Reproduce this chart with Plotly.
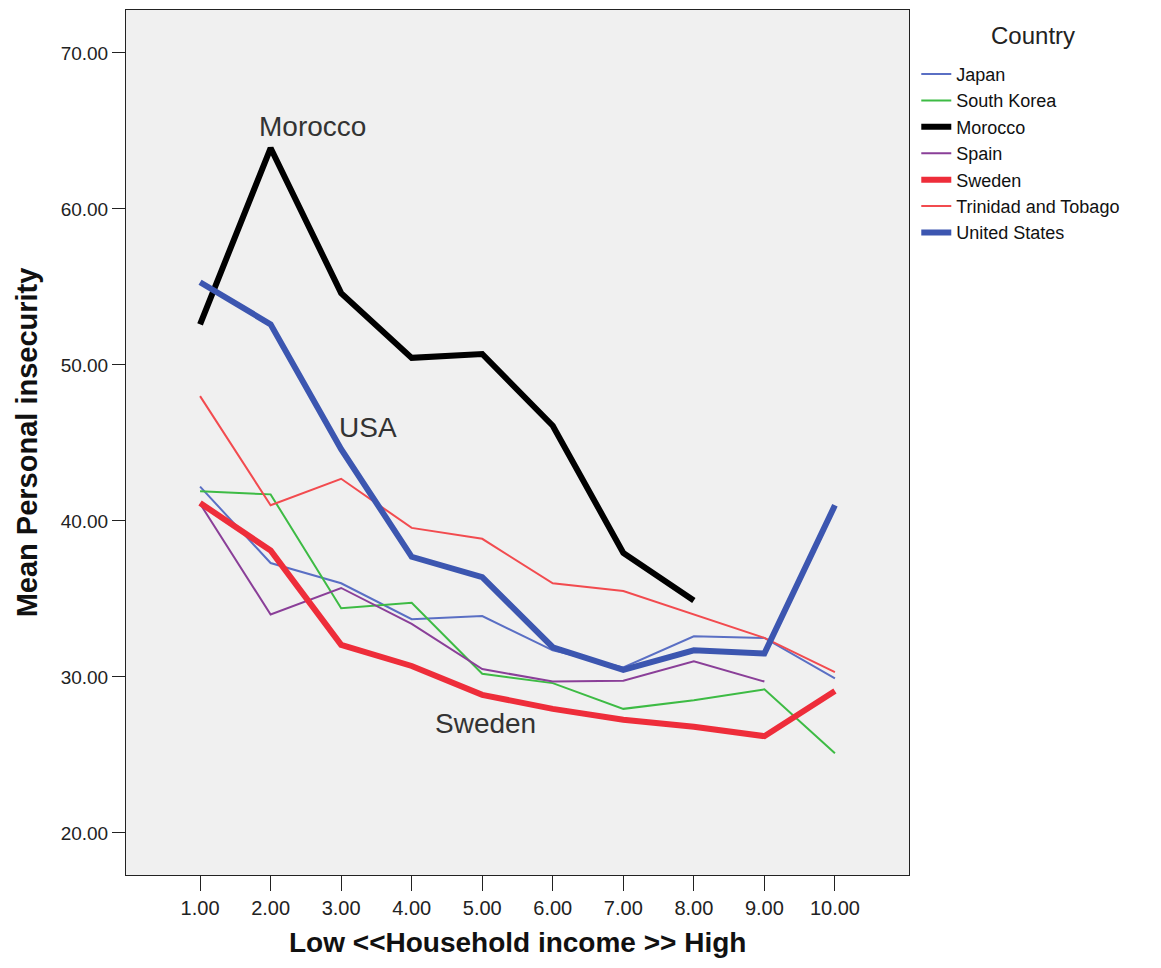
import plotly.graph_objects as go

income = [1, 2, 3, 4, 5, 6, 7, 8, 9, 10]
tick_labels = ["1.00", "2.00", "3.00", "4.00", "5.00", "6.00", "7.00", "8.00", "9.00", "10.00"]
y_ticks = [20, 30, 40, 50, 60, 70]
y_tick_labels = ["20.00", "30.00", "40.00", "50.00", "60.00", "70.00"]

japan = [42.2, 37.3, 36.0, 33.7, 33.9, 31.7, 30.6, 32.6, 32.5, 29.9]
south_korea = [41.9, 41.7, 34.4, 34.75, 30.2, 29.6, 27.95, 28.5, 29.2, 25.1]
morocco = [52.6, 63.9, 54.6, 50.45, 50.7, 46.1, 37.95, 34.9]
spain = [41.1, 34.0, 35.7, 33.4, 30.5, 29.7, 29.75, 31.0, 29.7]
sweden = [41.15, 38.1, 32.05, 30.7, 28.85, 27.95, 27.25, 26.8, 26.2, 29.1]
trinidad = [48.0, 41.0, 42.7, 39.55, 38.85, 36.0, 35.5, 34.0, 32.5, 30.3]
usa = [55.3, 52.6, 44.6, 37.7, 36.4, 31.9, 30.45, 31.7, 31.5, 41.0]

series = [
    ("Japan", japan, "#5a6fc4", 2),
    ("South Korea", south_korea, "#3dbb44", 2),
    ("Morocco", morocco, "#000000", 6),
    ("Spain", spain, "#8a3f98", 2),
    ("Sweden", sweden, "#ee2d3a", 6),
    ("Trinidad and Tobago", trinidad, "#f24b4f", 2),
    ("United States", usa, "#3c56b0", 6),
]

labels = [("Morocco", 2.59, 65.3), ("USA", 3.38, 46.0), ("Sweden", 5.05, 27.0)]

FONT = "Liberation Sans, Arial, sans-serif"

fig = go.Figure()
for name, vals, color, width in series:
    fig.add_trace(go.Scatter(
        x=income[:len(vals)], y=vals, mode="lines", name=name,
        line=dict(color=color, width=width),
    ))

for text, x, y in labels:
    fig.add_annotation(x=x, y=y, text=text, showarrow=False,
                       font=dict(family=FONT, size=28, color="#333333"))

fig.add_annotation(x=1.1584, y=0.97, xref="paper", yref="paper", text="Country",
                   showarrow=False, xanchor="center", yanchor="middle",
                   font=dict(family=FONT, size=24, color="#222"))

# x-axis title placed as paper annotation below the tick labels
fig.add_annotation(x=0.5, y=-0.0786, xref="paper", yref="paper",
                   text="<b>Low <<Household income >> High</b>",
                   showarrow=False, xanchor="center", yanchor="middle",
                   font=dict(family=FONT, size=28, color="#111"))

fig.update_layout(
    width=1145, height=952,
    margin=dict(l=118, r=244, t=2, b=85),
    paper_bgcolor="white",
    plot_bgcolor="#f0f0f0",
    showlegend=True,
    legend=dict(
        x=1.0093, y=0.947, xanchor="left", yanchor="top",
        font=dict(family=FONT, size=18, color="#111"),
        bgcolor="rgba(0,0,0,0)",
        tracegroupgap=0,
    ),
    xaxis=dict(
        range=[-0.05, 11.05], tickvals=income, ticktext=tick_labels,
        showgrid=False, zeroline=False, automargin=False,
        showline=True, mirror=True, linecolor="#222", linewidth=1,
        ticks="outside", ticklen=15, tickcolor="#222",
        tickfont=dict(family=FONT, size=20, color="#222"),
    ),
    yaxis=dict(
        range=[17.3, 72.75], tickvals=y_ticks, ticktext=y_tick_labels,
        showgrid=False, zeroline=False, automargin=False,
        showline=True, mirror=True, linecolor="#222", linewidth=1,
        ticks="outside", ticklen=13, tickcolor="#222",
        tickfont=dict(family=FONT, size=19, color="#222"),
        title=dict(text="<b>Mean Personal insecurity</b>", standoff=14,
                   font=dict(family=FONT, size=29, color="#111")),
    ),
)

fig.write_html("out.html")
